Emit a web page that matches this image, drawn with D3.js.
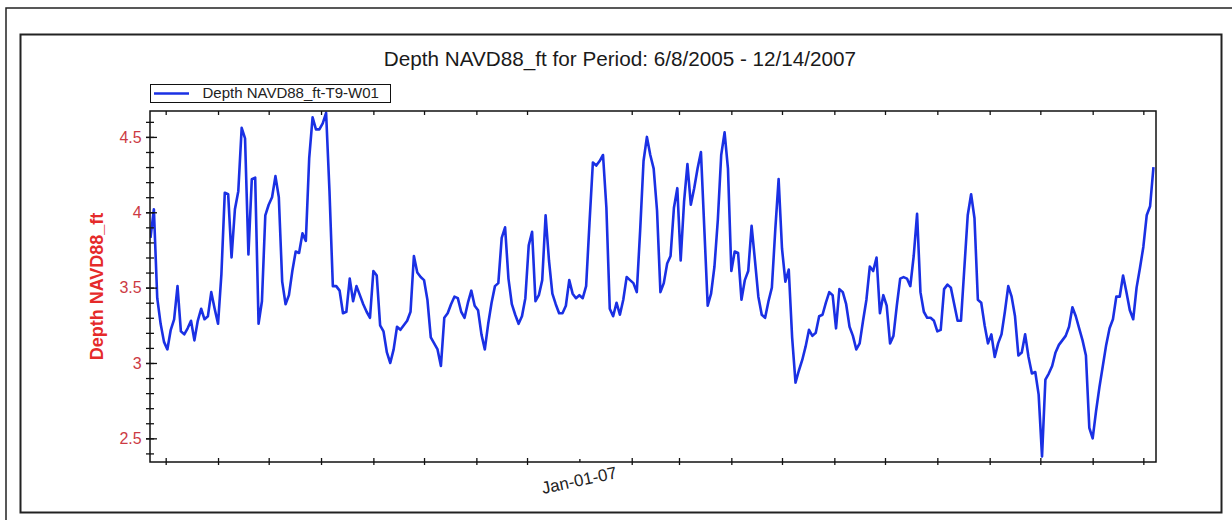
<!DOCTYPE html>
<html>
<head>
<meta charset="utf-8">
<script src="https://d3js.org/d3.v7.min.js"></script>
<style>
  body { margin: 0; background: #fff; }
  svg { display: block; font-family: "Liberation Sans", Arial, sans-serif; }
</style>
</head>
<body>
<svg id="chart" width="1232" height="520"></svg>
<script>
// Texts
const TITLE       = "Depth NAVD88_ft for Period: 6/8/2005 - 12/14/2007";
const SERIES_NAME = "Depth NAVD88_ft-T9-W01";
const Y_LABEL     = "Depth NAVD88_ft";

// Series: one reading every STEP_DAYS days from START_DATE (ft)
const START_DATE = "2006-04-22";
const STEP_DAYS  = 2;
const depth = [
  3.83, 4.02, 3.43, 3.26, 3.14, 3.09, 3.22, 3.29, 3.51, 3.21,
  3.19, 3.23, 3.28, 3.15, 3.28, 3.36, 3.29, 3.31, 3.47, 3.36,
  3.26, 3.59, 4.13, 4.12, 3.70, 4.02, 4.14, 4.56, 4.49, 3.72,
  4.22, 4.23, 3.26, 3.41, 3.98, 4.05, 4.10, 4.24, 4.10, 3.54,
  3.39, 3.45, 3.61, 3.74, 3.73, 3.86, 3.81, 4.36, 4.63, 4.55,
  4.55, 4.59, 4.66, 4.14, 3.51, 3.51, 3.48, 3.33, 3.34, 3.56,
  3.41, 3.51, 3.45, 3.39, 3.34, 3.30, 3.61, 3.58, 3.25, 3.21,
  3.07, 3.00, 3.09, 3.24, 3.22, 3.25, 3.28, 3.34, 3.71, 3.60,
  3.57, 3.55, 3.42, 3.17, 3.13, 3.09, 2.98, 3.30, 3.33, 3.39,
  3.44, 3.43, 3.34, 3.30, 3.40, 3.48, 3.38, 3.35, 3.19, 3.09,
  // 2006-11-08 ->
  3.26, 3.40, 3.51, 3.53, 3.83, 3.90, 3.56, 3.39, 3.32, 3.26,
  3.31, 3.43, 3.78, 3.87, 3.41, 3.45, 3.55, 3.98, 3.68, 3.46,
  3.39, 3.33, 3.33, 3.38, 3.55, 3.46, 3.43, 3.45, 3.43, 3.51,
  3.93, 4.33, 4.31, 4.34, 4.38, 4.03, 3.36, 3.31, 3.40, 3.32,
  3.42, 3.57, 3.55, 3.53, 3.47, 3.88, 4.34, 4.50, 4.38, 4.29,
  4.01, 3.47, 3.53, 3.66, 3.71, 4.03, 4.16, 3.68, 4.07, 4.32,
  4.05, 4.16, 4.29, 4.40, 3.89, 3.38, 3.46, 3.64, 3.95, 4.38,
  4.53, 4.29, 3.61, 3.74, 3.73, 3.42, 3.55, 3.61, 3.91, 3.68,
  3.44, 3.32, 3.30, 3.41, 3.50, 3.88, 4.22, 3.76, 3.54, 3.62,
  3.17, 2.87, 2.95, 3.02, 3.11, 3.22, 3.18, 3.20, 3.31,
  // 2007-05-24 ->
  3.32, 3.40, 3.47, 3.45, 3.23, 3.49, 3.47, 3.39, 3.24, 3.18,
  3.09, 3.13, 3.28, 3.42, 3.64, 3.61, 3.70, 3.33, 3.45, 3.38,
  3.13, 3.18, 3.38, 3.56, 3.57, 3.56, 3.51, 3.71, 3.99, 3.47,
  3.34, 3.30, 3.30, 3.28, 3.21, 3.22, 3.49, 3.52, 3.50, 3.39,
  3.28, 3.28, 3.63, 3.98, 4.12, 3.96, 3.42, 3.40, 3.25, 3.13,
  3.19, 3.04, 3.13, 3.19, 3.34, 3.51, 3.44, 3.31, 3.05, 3.07,
  3.19, 3.04, 2.93, 2.94, 2.79, 2.38, 2.89, 2.93, 2.98, 3.07,
  3.12, 3.15, 3.18, 3.24, 3.37, 3.31, 3.23, 3.15, 3.05, 2.57,
  2.50, 2.68, 2.84, 2.98, 3.12, 3.23, 3.29, 3.44, 3.44, 3.58,
  3.47, 3.35, 3.29, 3.50, 3.63, 3.77, 3.98, 4.04, 4.30
];

// Axes
const X_DOMAIN      = ["2006-04-21 17:00", "2007-12-08 12:00"];
const Y_DOMAIN      = [2.343, 4.672];
const yMajorTicks   = [2.5, 3, 3.5, 4, 4.5];
const yMinorTicks   = [2.4, 2.5, 2.6, 2.7, 2.8, 2.9, 3, 3.1, 3.2, 3.3, 3.4, 3.5,
                       3.6, 3.7, 3.8, 3.9, 4, 4.1, 4.2, 4.3, 4.4, 4.5, 4.6];
const xLabelDates   = ["2007-01-01"];
const xLabelTexts   = ["Jan-01-07"];

// Layout
const PLOT        = { left: 150, top: 111, right: 1156, bottom: 462 };
const LINE_COLOR  = "#1a30e4";
const RED_TICKS   = "#cc3a44";
const RED_TITLE   = "#e52a2a";

const parseDay  = d3.timeParse("%Y-%m-%d");
const parseTime = d3.timeParse("%Y-%m-%d %H:%M");
const start = parseDay(START_DATE);
const points = depth.map((v, i) => ({ date: d3.timeDay.offset(start, i * STEP_DAYS), value: v }));

const svg = d3.select("#chart");
svg.append("rect").attr("width", 1232).attr("height", 520).attr("fill", "#fff");

// frames
svg.append("rect").attr("x", 6).attr("y", 8).attr("width", 1240).attr("height", 540)
  .attr("fill", "none").attr("stroke", "#222").attr("stroke-width", 1.5);
svg.append("rect").attr("x", 20.5).attr("y", 34.5).attr("width", 1201).attr("height", 478)
  .attr("fill", "none").attr("stroke", "#222").attr("stroke-width", 2);

const x = d3.scaleTime().domain(X_DOMAIN.map(parseTime)).range([PLOT.left, PLOT.right]);
const y = d3.scaleLinear().domain(Y_DOMAIN).range([PLOT.bottom, PLOT.top]);

// title
svg.append("text")
  .attr("x", 620).attr("y", 66)
  .attr("text-anchor", "middle")
  .style("font-size", "20.7px").attr("fill", "#1a1a1a")
  .text(TITLE);

// line
svg.append("clipPath").attr("id", "clip")
  .append("rect").attr("x", PLOT.left).attr("y", PLOT.top)
  .attr("width", PLOT.right - PLOT.left).attr("height", PLOT.bottom - PLOT.top);

svg.append("path")
  .datum(points)
  .attr("clip-path", "url(#clip)")
  .attr("fill", "none")
  .attr("stroke", LINE_COLOR)
  .attr("stroke-width", 2.6)
  .attr("stroke-linejoin", "round")
  .attr("d", d3.line().x(d => x(d.date)).y(d => y(d.value)));

// plot box
svg.append("rect")
  .attr("x", PLOT.left).attr("y", PLOT.top)
  .attr("width", PLOT.right - PLOT.left).attr("height", PLOT.bottom - PLOT.top)
  .attr("fill", "none").attr("stroke", "#111").attr("stroke-width", 1.5);

// x axis ticks (monthly)
const months = x.ticks(d3.timeMonth);
const labelDates = xLabelDates.map(parseDay);
const isLabelled = d => labelDates.some(l => +l === +d);

const xBottom = svg.append("g")
  .attr("transform", `translate(0,${PLOT.bottom})`)
  .call(d3.axisBottom(x).tickValues(months).tickSize(3).tickFormat(""));
xBottom.select(".domain").remove();
xBottom.selectAll(".tick line")
  .attr("y1", d => isLabelled(d) ? -3 : -4)
  .attr("y2", d => isLabelled(d) ? 0 : 3)
  .attr("stroke", "#111").attr("stroke-width", 1.3);

const xTop = svg.append("g")
  .attr("transform", `translate(0,${PLOT.top})`)
  .call(d3.axisTop(x).tickValues(months.filter(d => !isLabelled(d))).tickSize(-4).tickFormat(""));
xTop.select(".domain").remove();
xTop.selectAll(".tick line").attr("stroke", "#111").attr("stroke-width", 1.3);

labelDates.forEach((d, i) => {
  svg.append("text")
    .attr("transform", `translate(${x(d) + 1},486) rotate(-12)`)
    .attr("text-anchor", "middle")
    .style("font-size", "17px").attr("fill", "#222")
    .text(xLabelTexts[i]);
});

// y axis
const yMinor = svg.append("g")
  .attr("transform", `translate(${PLOT.left},0)`)
  .call(d3.axisLeft(y).tickValues(yMinorTicks).tickSize(4).tickFormat(""));
yMinor.select(".domain").remove();
yMinor.selectAll(".tick line").attr("x1", 4).attr("stroke", "#111").attr("stroke-width", 1.3);

const yMajor = svg.append("g")
  .attr("transform", `translate(${PLOT.left},0)`)
  .call(d3.axisLeft(y).tickValues(yMajorTicks).tickSize(4).tickPadding(4.3).tickFormat(d => String(d)));
yMajor.select(".domain").remove();
yMajor.selectAll(".tick line").attr("x1", 7).attr("stroke", "#111").attr("stroke-width", 1.3);
yMajor.selectAll(".tick text")
  .attr("fill", RED_TICKS)
  .style("font-size", "16px")
  .style("font-family", "'Liberation Sans', Arial, sans-serif");

svg.append("text")
  .attr("transform", `translate(103,${(PLOT.top + PLOT.bottom) / 2}) rotate(-90)`)
  .attr("text-anchor", "middle")
  .style("font-size", "18px").style("font-weight", "bold")
  .attr("fill", RED_TITLE)
  .text(Y_LABEL);

// legend
const legend = svg.append("g").attr("transform", "translate(150,84)");
legend.append("rect").attr("x", 0.5).attr("y", 0.5).attr("width", 240).attr("height", 18)
  .attr("fill", "#fff").attr("stroke", "#111").attr("stroke-width", 1);
legend.append("line").attr("x1", 4).attr("x2", 39).attr("y1", 9.5).attr("y2", 9.5)
  .attr("stroke", LINE_COLOR).attr("stroke-width", 2.5);
legend.append("text").attr("x", 52.5).attr("y", 14)
  .style("font-size", "15px").attr("fill", "#222")
  .text(SERIES_NAME);
</script>
</body>
</html>
